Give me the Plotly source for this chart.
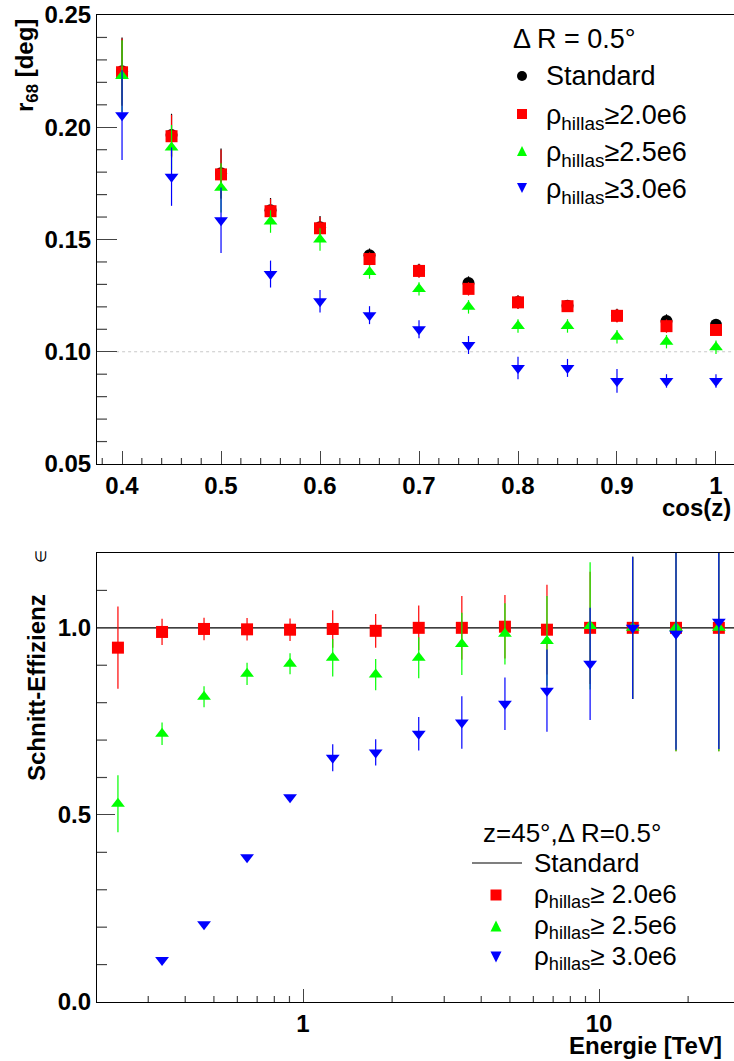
import plotly.graph_objects as go

W, H = 734, 1061

# ---------------- upper panel: angular resolution vs cos(z) ----------------
cosz = [0.40, 0.45, 0.50, 0.55, 0.60, 0.65, 0.70, 0.75, 0.80, 0.85, 0.90, 0.95, 1.00]

r68_standard = [0.2250, 0.1965, 0.1795, 0.1630, 0.1555, 0.1430, 0.1362, 0.1306, 0.1222, 0.1205, 0.1162, 0.1137, 0.1120]
r68_standard_err = [0.015, 0.0095, 0.011, 0.0055, 0.005, 0.003, 0.003, 0.003, 0.003, 0.002, 0.003, 0.003, 0.002]

r68_rho20 = [0.2245, 0.1960, 0.1790, 0.1626, 0.1550, 0.1413, 0.1360, 0.1280, 0.1220, 0.1203, 0.1160, 0.1114, 0.1097]
r68_rho20_err = [0.015, 0.0095, 0.011, 0.0055, 0.005, 0.003, 0.003, 0.003, 0.003, 0.002, 0.003, 0.003, 0.002]

r68_rho25 = [0.2228, 0.1910, 0.1730, 0.1580, 0.1500, 0.1355, 0.1280, 0.1200, 0.1115, 0.1115, 0.1067, 0.1045, 0.1020]
r68_rho25_err = [0.016, 0.010, 0.011, 0.005, 0.005, 0.003, 0.003, 0.003, 0.003, 0.003, 0.003, 0.003, 0.003]

r68_rho30 = [0.2054, 0.1780, 0.1586, 0.1346, 0.1225, 0.1163, 0.1100, 0.1030, 0.0928, 0.0928, 0.0870, 0.0870, 0.0870]
r68_rho30_err = [0.020, 0.013, 0.0146, 0.006, 0.005, 0.004, 0.004, 0.004, 0.005, 0.004, 0.0053, 0.003, 0.003]

r68_reference_level = 0.10

# ---------------- lower panel: cut efficiency vs energy ----------------
energy = [0.237, 0.334, 0.463, 0.647, 0.904, 1.26, 1.76, 2.46, 3.44, 4.81, 6.67, 9.33, 13.0, 18.2, 25.4]

eff_standard = 1.0

eff_rho20 = [0.947, 0.989, 0.997, 0.996, 0.995, 0.997, 0.992, 1.000, 1.000, 1.003, 0.995, 1.000, 1.000, 1.000, 1.000]
eff_rho20_err = [0.11, 0.035, 0.03, 0.03, 0.03, 0.05, 0.045, 0.06, 0.085, 0.085, 0.12, 0.15, 0.19, 0.33, 0.33]

eff_rho25 = [0.530, 0.717, 0.816, 0.877, 0.904, 0.920, 0.875, 0.920, 0.957, 0.984, 0.965, 1.005, 1.000, 1.000, 1.000]
eff_rho25_err = [0.076, 0.03, 0.028, 0.03, 0.028, 0.05, 0.042, 0.055, 0.083, 0.082, 0.12, 0.17, 0.19, 0.33, 0.33]

# the highest cut leaves no events in the lowest energy bin
energy_rho30 = [0.334, 0.463, 0.647, 0.904, 1.26, 1.76, 2.46, 3.44, 4.81, 6.67, 9.33, 13.0, 18.2, 25.4]
eff_rho30 = [0.112, 0.208, 0.387, 0.547, 0.653, 0.667, 0.717, 0.747, 0.797, 0.832, 0.904, 1.000, 0.984, 1.016]
eff_rho30_err = [0.004, 0.004, 0.005, 0.006, 0.036, 0.035, 0.045, 0.07, 0.07, 0.11, 0.15, 0.19, 0.31, 0.34]

# tick labels
top_x_ticks = [0.4, 0.5, 0.6, 0.7, 0.8, 0.9, 1.0]
top_x_ticktext = ["0.4", "0.5", "0.6", "0.7", "0.8", "0.9", "1"]
top_y_ticks = [0.05, 0.10, 0.15, 0.20, 0.25]
top_y_ticktext = ["0.05", "0.10", "0.15", "0.20", "0.25"]
bot_x_ticks = [1, 10]
bot_x_ticktext = ["1", "10"]
bot_y_ticks = [0.0, 0.5, 1.0]
bot_y_ticktext = ["0.0", "0.5", "1.0"]

# series labels
rho_labels_top = ["ρ<sub>hillas</sub>≥2.0e6", "ρ<sub>hillas</sub>≥2.5e6", "ρ<sub>hillas</sub>≥3.0e6"]
rho_labels_bot = ["ρ<sub>hillas</sub>≥ 2.0e6", "ρ<sub>hillas</sub>≥ 2.5e6", "ρ<sub>hillas</sub>≥ 3.0e6"]

RED, GREEN, BLUE, BLACK = "#ff0000", "#00ff00", "#0000ff", "#000000"
TICK = "#444444"
FONT = "Liberation Sans"

# panel geometry (pixels)
X_LEFT = 97
TOP_PANEL = (15, 464)
BOT_PANEL = (553, 1002)


def px(x):
    return x / W


def py(y):
    return 1 - y / H


fig = go.Figure()


def add_series(x, y, err, color, symbol, size, xa, ya):
    fig.add_trace(go.Scatter(
        x=x, y=y, mode="markers", xaxis=xa, yaxis=ya, showlegend=False,
        marker=dict(symbol=symbol, size=size, color=color, line=dict(width=0)),
        error_y=dict(type="data", array=err, visible=True, color=color,
                     thickness=1.2, width=0),
    ))


# upper panel series
add_series(cosz, r68_standard, r68_standard_err, BLACK, "circle", 12, "x", "y")
add_series(cosz, r68_rho20, r68_rho20_err, RED, "square", 12, "x", "y")
add_series(cosz, r68_rho25, r68_rho25_err, GREEN, "triangle-up", 12, "x", "y")
add_series(cosz, r68_rho30, r68_rho30_err, BLUE, "triangle-down", 12, "x", "y")

# lower panel series
add_series(energy, eff_rho20, eff_rho20_err, RED, "square", 12, "x2", "y2")
add_series(energy, eff_rho25, eff_rho25_err, GREEN, "triangle-up", 12, "x2", "y2")
add_series(energy_rho30, eff_rho30, eff_rho30_err, BLUE, "triangle-down", 12, "x2", "y2")

# reference lines
fig.add_shape(type="line", xref="x domain", yref="y", x0=0.03, x1=1,
              y0=r68_reference_level, y1=r68_reference_level,
              line=dict(color="#c8c8c8", width=1, dash="dot"), layer="below")
fig.add_shape(type="line", xref="x2 domain", yref="y2", x0=0, x1=1,
              y0=eff_standard, y1=eff_standard,
              line=dict(color=BLACK, width=1.2), layer="below")


# minor ticks (inside the frame), placed in data coordinates
def xticks(vals, xref, yref, frac):
    for v in vals:
        fig.add_shape(type="line", xref=xref, yref=yref, x0=v, x1=v, y0=0, y1=frac,
                      line=dict(color=TICK, width=1.2))


def yticks(vals, xref, yref, frac):
    for v in vals:
        fig.add_shape(type="line", xref=xref, yref=yref, y0=v, y1=v, x0=0, x1=frac,
                      line=dict(color=TICK, width=1.2))


plot_w = W - X_LEFT
top_h = TOP_PANEL[1] - TOP_PANEL[0]
bot_h = BOT_PANEL[1] - BOT_PANEL[0]

minor_top_x = [round(0.38 + 0.02 * i, 2) for i in range(33)]
minor_top_x = [v for v in minor_top_x if abs(v * 10 - round(v * 10)) > 1e-6]
minor_top_y = [round(0.05 + 0.01 * i, 2) for i in range(21)]
minor_top_y = [v for v in minor_top_y if round(v * 100) % 5 != 0]
minor_bot_x = [0.3, 0.4, 0.5, 0.6, 0.7, 0.8, 0.9, 2, 3, 4, 5, 6, 7, 8, 9, 20]
minor_bot_y = [0.1, 0.2, 0.3, 0.4, 0.6, 0.7, 0.8, 0.9, 1.1]

xticks(minor_top_x, "x", "y domain", 6 / top_h)
yticks(minor_top_y, "x domain", "y", 10 / plot_w)
xticks(minor_bot_x, "x2", "y2 domain", 6 / bot_h)
yticks(minor_bot_y, "x2 domain", "y2", 10 / plot_w)

# legend glyphs
LEG_TOP = dict(mx=522, rows=[76, 114, 151, 188], half=5)
LEG_BOT = dict(mx=496, rows=[895, 926, 957], half=5.5)


def glyph(kind, cx, cy, h, color):
    x0, x1 = px(cx - h), px(cx + h)
    y0, y1 = py(cy + h), py(cy - h)
    if kind == "circle":
        fig.add_shape(type="circle", xref="paper", yref="paper", x0=x0, x1=x1, y0=y0, y1=y1,
                      fillcolor=color, line=dict(width=0))
    elif kind == "square":
        fig.add_shape(type="rect", xref="paper", yref="paper", x0=x0, x1=x1, y0=y0, y1=y1,
                      fillcolor=color, line=dict(width=0))
    else:
        if kind == "up":
            path = f"M {x0} {y0} L {x1} {y0} L {(x0 + x1) / 2} {y1} Z"
        else:
            path = f"M {x0} {y1} L {x1} {y1} L {(x0 + x1) / 2} {y0} Z"
        fig.add_shape(type="path", xref="paper", yref="paper", path=path,
                      fillcolor=color, line=dict(width=0))


for yy, col, kind in zip(LEG_TOP["rows"], [BLACK, RED, GREEN, BLUE],
                         ["circle", "square", "up", "down"]):
    glyph(kind, LEG_TOP["mx"], yy, LEG_TOP["half"], col)
for yy, col, kind in zip(LEG_BOT["rows"], [RED, GREEN, BLUE], ["square", "up", "down"]):
    glyph(kind, LEG_BOT["mx"], yy, LEG_BOT["half"], col)
fig.add_shape(type="line", xref="paper", yref="paper", x0=px(472), x1=px(522),
              y0=py(863), y1=py(863), line=dict(color=BLACK, width=1.2))

tickfont = dict(family=FONT, size=24, color=BLACK, weight="bold")
axis_common = dict(showgrid=False, zeroline=False, showline=True, linecolor=BLACK,
                   linewidth=1.2, ticks="inside", tickcolor=TICK, tickwidth=1.2,
                   tickfont=tickfont, automargin=False)

x_dom = [px(X_LEFT), 1.0]

fig.update_layout(
    width=W, height=H,
    margin=dict(l=0, r=0, t=0, b=0, pad=0, autoexpand=False),
    paper_bgcolor="white", plot_bgcolor="white",
    font=dict(family=FONT, color=BLACK),
    showlegend=False,
    xaxis=dict(axis_common, domain=x_dom, anchor="y", range=[0.3747, 1.0182],
               tickmode="array", tickvals=top_x_ticks, ticktext=top_x_ticktext, ticklen=13,
               mirror=True),
    yaxis=dict(axis_common, domain=[py(TOP_PANEL[1]), py(TOP_PANEL[0])], anchor="x",
               range=[0.05, 0.25], tickmode="array", tickvals=top_y_ticks,
               ticktext=top_y_ticktext, ticklen=20),
    xaxis2=dict(axis_common, domain=x_dom, anchor="y2", type="log", range=[-0.696, 1.456],
                tickmode="array", tickvals=bot_x_ticks, ticktext=bot_x_ticktext, ticklen=13,
                mirror=True),
    yaxis2=dict(axis_common, domain=[py(BOT_PANEL[1]), py(BOT_PANEL[0])], anchor="x2",
                range=[0, 1.2], tickmode="array", tickvals=bot_y_ticks,
                ticktext=bot_y_ticktext, ticklen=18),
)

bold = dict(family=FONT, size=24, color=BLACK, weight="bold")
legfont_top = dict(family=FONT, size=27, color=BLACK)
legfont_bot = dict(family=FONT, size=26, color=BLACK)


def note(text, x, y, font, xanchor="left", yanchor="middle", angle=0):
    fig.add_annotation(text=text, x=px(x), y=py(y), xref="paper", yref="paper",
                       showarrow=False, font=font, xanchor=xanchor, yanchor=yanchor,
                       textangle=angle)


# axis titles
note("r<sub>68</sub> [deg]", 27, 66, bold, xanchor="center", yanchor="middle", angle=-90)
note("cos(z)", 733, 508, bold, xanchor="right")
note("Schnitt-Effizienz", 36, 688, bold, xanchor="center", yanchor="middle", angle=-90)
note("∈", 40, 557, dict(family=FONT, size=15, color=BLACK), xanchor="center", angle=-90)
note("Energie [TeV]", 724, 1045, bold, xanchor="right")

# upper legend text
note("Δ R = 0.5°", 511, 39, legfont_top)
note("Standard", 544, 76, legfont_top)
for yy, lab in zip(LEG_TOP["rows"][1:], rho_labels_top):
    note(lab, 544, yy + 3, legfont_top)

# lower legend text
note("z=45°,Δ R=0.5°", 481, 833, legfont_bot)
note("Standard", 532, 863, legfont_bot)
for yy, lab in zip(LEG_BOT["rows"], rho_labels_bot):
    note(lab, 532, yy, legfont_bot)

fig.write_html("out.html")
